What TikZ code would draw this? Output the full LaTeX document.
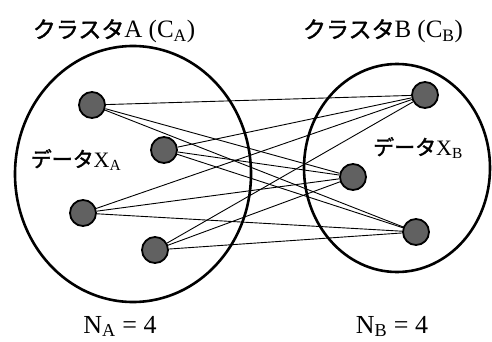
\documentclass[tikz,border=0pt]{standalone}
\usepackage{fontspec}
\setmainfont{Liberation Serif}
\newfontfamily\jp{Noto Sans CJK JP}[FakeBold=1.6]
\begin{document}
\begin{tikzpicture}[x=1pt,y=-1pt,
  datum/.style={circle,draw=black,line width=1.8pt,fill=black!62,minimum size=26pt,inner sep=0pt},
  cluster/.style={draw=black,line width=2.6pt},
  link/.style={draw=black,line width=0.9pt},
  lbl/.style={anchor=base,inner sep=0pt}]
\useasboundingbox (0,0) rectangle (492,342);
% clusters
\draw[cluster] (133,174) ellipse [x radius=118, y radius=128];
\draw[cluster] (397,168) ellipse [x radius=93, y radius=104];
% data nodes
\node[datum] (a1) at (92,105) {};
\node[datum] (a2) at (164,150) {};
\node[datum] (a3) at (83,213) {};
\node[datum] (a4) at (155,250) {};
\node[datum] (b1) at (425,95) {};
\node[datum] (b2) at (353,177) {};
\node[datum] (b3) at (416,232) {};
% links
\foreach \a in {a1,a2,a3,a4}
  \foreach \b in {b1,b2,b3}
    \draw[link] (\a) -- (\b);
% labels
\node[lbl,font=\fontsize{25}{28}\selectfont] (ta) at (114,38) {{\jp\fontsize{23}{28}\selectfont クラスタ}A (C\textsubscript{A})};
\node[lbl,font=\fontsize{25}{28}\selectfont] (tb) at (383,38) {{\jp\fontsize{23}{28}\selectfont クラスタ}B (C\textsubscript{B})};
\node[lbl,font=\fontsize{22}{26}\selectfont] (xa) at (76,167) {{\jp\fontsize{21}{26}\selectfont データ}X\textsubscript{A}};
\node[lbl,font=\fontsize{22}{26}\selectfont] (xb) at (418,155) {{\jp\fontsize{21}{26}\selectfont データ}X\textsubscript{B}};
\node[lbl,font=\fontsize{26}{30}\selectfont] (na) at (120,333) {N\textsubscript{A} = 4};
\node[lbl,font=\fontsize{26}{30}\selectfont] (nb) at (392,333) {N\textsubscript{B} = 4};
\end{tikzpicture}
\end{document}
